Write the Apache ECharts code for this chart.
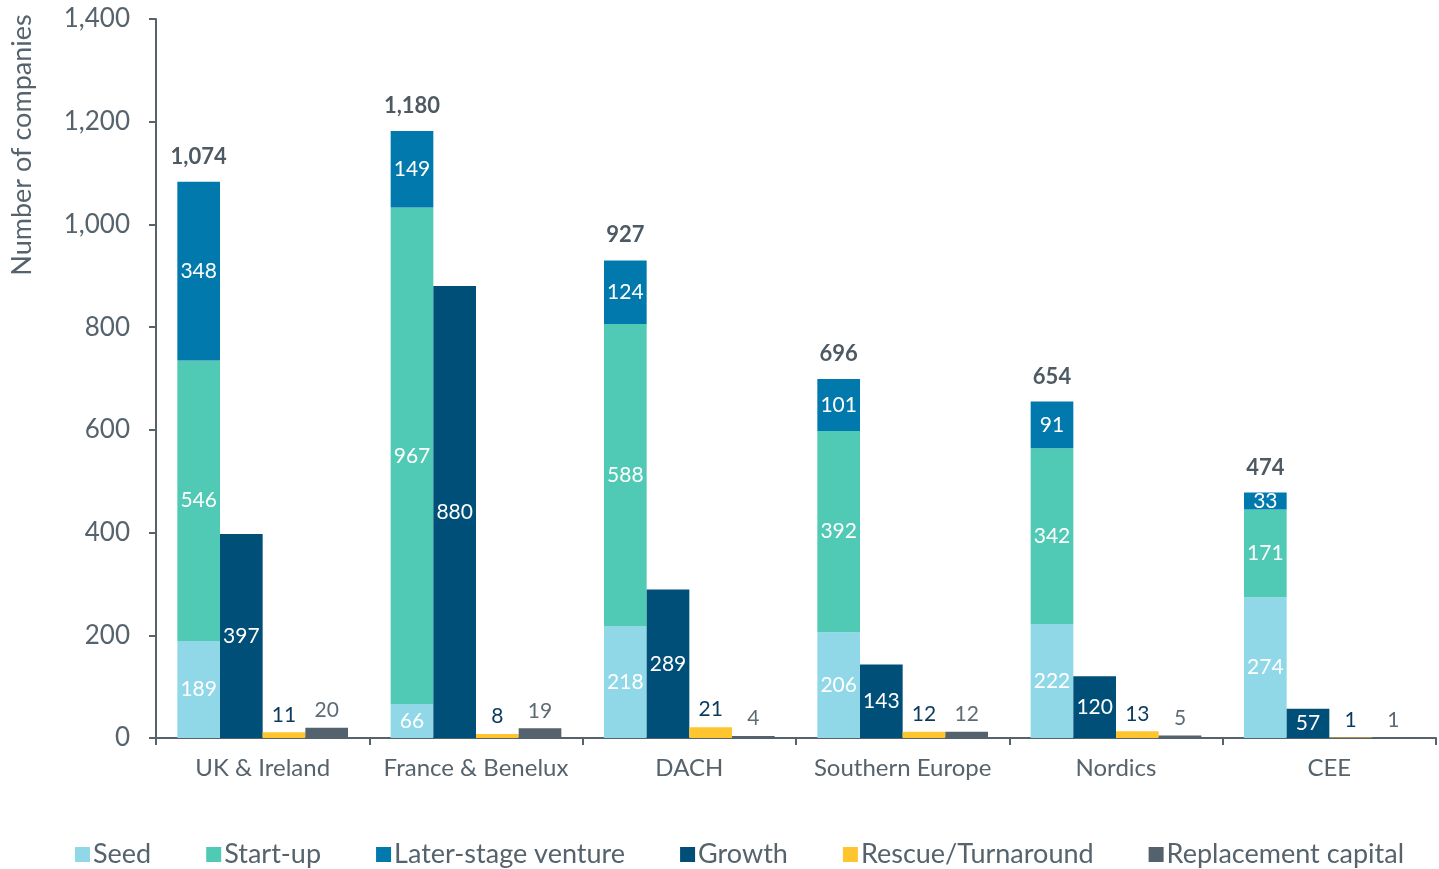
<!DOCTYPE html>
<html>
<head>
<meta charset="utf-8">
<style>
  html, body { margin: 0; padding: 0; background: #fff; }
  #chart { width: 1439px; height: 869px; }
</style>
<script src="https://cdn.jsdelivr.net/npm/echarts@6/dist/echarts.min.js"></script>
</head>
<body>
<div id="chart"></div>
<script>
// Number of companies by region and investment stage
const regions = ['UK & Ireland', 'France & Benelux', 'DACH', 'Southern Europe', 'Nordics', 'CEE'];
const seed        = [189, 66, 218, 206, 222, 274];
const startUp     = [546, 967, 588, 392, 342, 171];
const laterStage  = [348, 149, 124, 101, 91, 33];
const growth      = [397, 880, 289, 143, 120, 57];
const rescue      = [11, 8, 21, 12, 13, 1];
const replacement = [20, 19, 4, 12, 5, 1];
// Venture totals (unique companies) shown above each venture stack
const ventureTotals = [1074, 1180, 927, 696, 654, 474];
const yTicks = [0, 200, 400, 600, 800, 1000, 1200, 1400];

const FONT = 'Lato';
const AXIS_COLOR = '#56636c';
const TEXT_COLOR = '#56636c';

const colors = {
  seed: '#90d8e8',
  start: '#50c9b5',
  later: '#0179ad',
  growth: '#004f78',
  rescue: '#fec52e',
  repl: '#53626d'
};

const fmt = n => n.toLocaleString('en-US');

const insideLabel = {
  show: true,
  position: 'inside',
  color: '#ffffff',
  fontFamily: FONT,
  fontSize: 21
};

const chart = echarts.init(document.getElementById('chart'));
chart.setOption({
  animation: false,
  textStyle: { fontFamily: FONT },
  grid: { left: 156, right: 3, top: 19, bottom: 131, containLabel: false },
  legend: {
    data: ['Seed', 'Start-up', 'Later-stage venture', 'Growth', 'Rescue/Turnaround', 'Replacement capital'],
    left: 70,
    top: 836,
    itemWidth: 15,
    itemHeight: 15,
    itemGap: 55,
    icon: 'rect',
    textStyle: { color: TEXT_COLOR, fontSize: 27, fontFamily: FONT, padding: [0, 0, 0, -2] }
  },
  graphic: [{
    type: 'text',
    x: 22,
    y: 145,
    rotation: Math.PI / 2,
    style: {
      text: 'Number of companies',
      fill: TEXT_COLOR,
      fontSize: 27,
      fontFamily: FONT,
      textAlign: 'center',
      textVerticalAlign: 'middle'
    }
  }],
  xAxis: {
    type: 'category',
    data: regions,
    axisLine: { lineStyle: { color: AXIS_COLOR, width: 2 } },
    axisTick: { show: true, length: 7, lineStyle: { color: AXIS_COLOR, width: 2 } },
    axisLabel: { interval: 0, color: TEXT_COLOR, fontSize: 24, fontFamily: FONT, margin: 18 }
  },
  yAxis: {
    type: 'value',
    min: yTicks[0],
    max: yTicks[yTicks.length - 1],
    interval: yTicks[1] - yTicks[0],
    axisLine: { show: true, lineStyle: { color: AXIS_COLOR, width: 2 } },
    axisTick: { show: true, length: 7, lineStyle: { color: AXIS_COLOR, width: 2 } },
    splitLine: { show: false },
    axisLabel: { color: TEXT_COLOR, fontSize: 26, fontFamily: FONT, margin: 26, formatter: v => fmt(v) }
  },
  series: [
    {
      name: 'Seed', type: 'bar', stack: 'venture', data: seed,
      barGap: '0%', barCategoryGap: '20%',
      itemStyle: { color: colors.seed }, label: insideLabel
    },
    {
      name: 'Start-up', type: 'bar', stack: 'venture', data: startUp,
      itemStyle: { color: colors.start }, label: insideLabel
    },
    {
      name: 'Later-stage venture', type: 'bar', stack: 'venture', data: laterStage,
      itemStyle: { color: colors.later }, label: insideLabel
    },
    {
      name: 'Venture total', type: 'bar', stack: 'venture',
      data: ventureTotals.map(() => 0),
      itemStyle: { color: 'transparent' },
      tooltip: { show: false },
      label: {
        show: true, position: 'top', distance: 14,
        color: '#4d5963', fontSize: 22, fontWeight: 'bold', fontFamily: FONT,
        formatter: p => fmt(ventureTotals[p.dataIndex])
      }
    },
    {
      name: 'Growth', type: 'bar', data: growth,
      itemStyle: { color: colors.growth }, label: insideLabel
    },
    {
      name: 'Rescue/Turnaround', type: 'bar', data: rescue,
      itemStyle: { color: colors.rescue },
      label: { show: true, position: 'top', distance: 7, color: '#0b3a5d', fontSize: 21, fontFamily: FONT }
    },
    {
      name: 'Replacement capital', type: 'bar', data: replacement,
      itemStyle: { color: colors.repl },
      label: { show: true, position: 'top', distance: 7, color: '#5f6b74', fontSize: 21, fontFamily: FONT }
    }
  ]
});
</script>
</body>
</html>
